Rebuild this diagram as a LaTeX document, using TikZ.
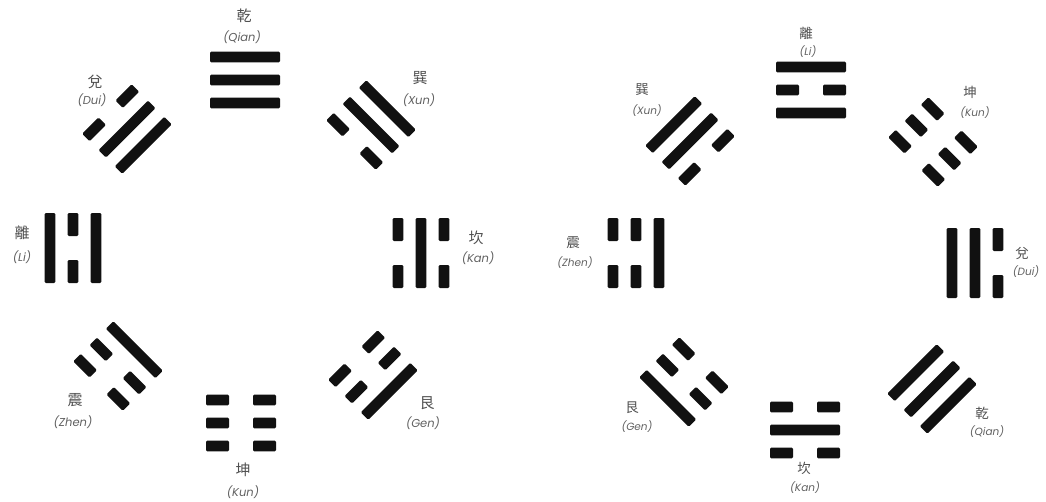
\documentclass[tikz,border=0pt]{standalone}
\usepackage{fontspec}
\setmainfont{Poppins}
\newfontfamily\cjk{Noto Sans CJK TC}
\definecolor{barcol}{HTML}{111111}
\definecolor{cjkcol}{HTML}{505050}
\definecolor{romcol}{HTML}{606060}
\tikzset{
  bar/.style={fill=barcol, rounded corners=1.2pt},
  cjklab/.style={inner sep=0pt, text=cjkcol, font=\cjk\fontsize{15}{15}\selectfont},
  romlab/.style={inner sep=0pt, text=romcol, font=\itshape\fontsize{11.5}{12}\selectfont},
  cjklabs/.style={cjklab, font=\cjk\fontsize{13.5}{14}\selectfont},
  romlabs/.style={romlab, font=\itshape\fontsize{10.5}{11}\selectfont},
}
% one line of a trigram: #1 local offset, #2 1=solid 0=broken
\newcommand{\trigline}[2]{%
  \ifnum#2=1
    \fill[bar] (-35,#1-5.3) rectangle (35,#1+5.3);
  \else
    \fill[bar] (-35,#1-5.3) rectangle (-12,#1+5.3);
    \fill[bar] (12,#1-5.3) rectangle (35,#1+5.3);
  \fi}
% trigram: x, y, rotation, line1 (nearest centre), line2, line3
\newcommand{\trigram}[6]{%
  \begin{scope}[shift={(#1,#2)},rotate=#3]
    \trigline{23}{#4}\trigline{0}{#5}\trigline{-23}{#6}
  \end{scope}}
\begin{document}
\begin{tikzpicture}[x=1pt,y=-1pt]
\useasboundingbox (0,0) rectangle (1046,501);
% ---------- left: earlier heaven ----------
\trigram{245}{80}{0}{1}{1}{1}     % Qian
\trigram{127}{129}{45}{1}{1}{0}   % Dui
\trigram{73}{248}{90}{1}{0}{1}    % Li
\trigram{118}{366}{135}{1}{0}{0}  % Zhen
\trigram{241}{423}{180}{0}{0}{0}  % Kun
\trigram{373}{375}{225}{0}{0}{1}  % Gen
\trigram{421}{253}{270}{0}{1}{0}  % Kan
\trigram{371}{125}{315}{0}{1}{1}  % Xun
\node[cjklab] (qianA) at (244,16) {乾};
\node[romlab] (qianAr) at (242,37) {(Qian)};
\node[cjklab] (duiA) at (95,82) {兌};
\node[romlab] (duiAr) at (92,100) {(Dui)};
\node[cjklab] (xunA) at (420,78) {巽};
\node[romlab] (xunAr) at (419,100) {(Xun)};
\node[cjklab] (liA) at (22,233) {離};
\node[romlab] (liAr) at (22,257) {(Li)};
\node[cjklab] (kanA) at (476,238) {坎};
\node[romlab] (kanAr) at (478,258) {(Kan)};
\node[cjklab] (zhenA) at (75,400) {震};
\node[romlab] (zhenAr) at (73,422) {(Zhen)};
\node[cjklab] (kunA) at (243,470) {坤};
\node[romlab] (kunAr) at (243,492) {(Kun)};
\node[cjklab] (genA) at (427,403) {艮};
\node[romlab] (genAr) at (423,423) {(Gen)};
% ---------- right: later heaven ----------
\trigram{811}{90}{0}{1}{0}{1}     % Li
\trigram{690}{141}{45}{0}{1}{1}   % Xun
\trigram{636}{253}{90}{1}{0}{0}   % Zhen
\trigram{684}{382}{135}{0}{0}{1}  % Gen
\trigram{805}{430}{180}{0}{1}{0}  % Kan
\trigram{932}{389}{225}{1}{1}{1}  % Qian
\trigram{975}{263}{270}{1}{1}{0}  % Dui
\trigram{933}{142}{315}{0}{0}{0}  % Kun
\node[cjklabs] (liB) at (806,33) {離};
\node[romlabs] (liBr) at (808,52) {(Li)};
\node[cjklabs] (xunB) at (642,90) {巽};
\node[romlabs] (xunBr) at (647,111) {(Xun)};
\node[cjklabs] (kunB) at (970,92) {坤};
\node[romlabs] (kunBr) at (975,113) {(Kun)};
\node[cjklabs] (zhenB) at (573,243) {震};
\node[romlabs] (zhenBr) at (575,263) {(Zhen)};
\node[cjklabs] (duiB) at (1022,253) {兌};
\node[romlabs] (duiBr) at (1026,272) {(Dui)};
\node[cjklabs] (qianB) at (982,413) {乾};
\node[romlabs] (qianBr) at (987,432) {(Qian)};
\node[cjklabs] (kanB) at (804,468) {坎};
\node[romlabs] (kanBr) at (805,488) {(Kan)};
\node[cjklabs] (genB) at (632,408) {艮};
\node[romlabs] (genBr) at (637,427) {(Gen)};
\end{tikzpicture}
\end{document}
